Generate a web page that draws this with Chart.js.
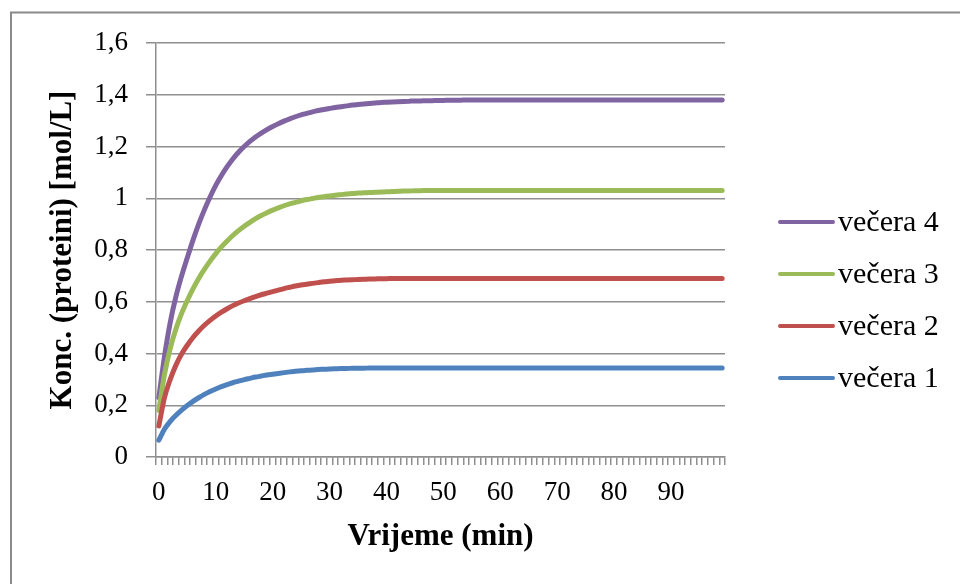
<!DOCTYPE html>
<html>
<head>
<meta charset="utf-8">
<script src="https://cdn.jsdelivr.net/npm/chart.js@4"></script>
<style>
  html, body { margin: 0; padding: 0; background: #ffffff; }
  #wrap { width: 960px; height: 584px; }
</style>
</head>
<body>
<div id="wrap"><canvas id="c" width="960" height="584"></canvas></div>
<script>
const timeLabels = [
  '0','1','2','3','4','5','6','7','8','9',
  '10','11','12','13','14','15','16','17','18','19',
  '20','21','22','23','24','25','26','27','28','29',
  '30','31','32','33','34','35','36','37','38','39',
  '40','41','42','43','44','45','46','47','48','49',
  '50','51','52','53','54','55','56','57','58','59',
  '60','61','62','63','64','65','66','67','68','69',
  '70','71','72','73','74','75','76','77','78','79',
  '80','81','82','83','84','85','86','87','88','89',
  '90','91','92','93','94','95','96','97','98','99'
];

const vecera1 = [
  0.065, 0.108, 0.138, 0.161, 0.181, 0.199, 0.215, 0.229, 0.242, 0.253,
  0.263, 0.272, 0.28, 0.287, 0.293, 0.299, 0.304, 0.309, 0.313, 0.317,
  0.32, 0.323, 0.326, 0.329, 0.331, 0.333, 0.335, 0.336, 0.338, 0.339,
  0.34, 0.341, 0.342, 0.342, 0.343, 0.343, 0.343, 0.344, 0.344, 0.344,
  0.344, 0.344, 0.344, 0.344, 0.344, 0.344, 0.344, 0.344, 0.344, 0.344,
  0.344, 0.344, 0.344, 0.344, 0.344, 0.344, 0.344, 0.344, 0.344, 0.344,
  0.344, 0.344, 0.344, 0.344, 0.344, 0.344, 0.344, 0.344, 0.344, 0.344,
  0.344, 0.344, 0.344, 0.344, 0.344, 0.344, 0.344, 0.344, 0.344, 0.344,
  0.344, 0.344, 0.344, 0.344, 0.344, 0.344, 0.344, 0.344, 0.344, 0.344,
  0.344, 0.344, 0.344, 0.344, 0.344, 0.344, 0.344, 0.344, 0.344, 0.344
];

const vecera2 = [
  0.12, 0.23, 0.30, 0.355, 0.398, 0.432, 0.462, 0.487, 0.509, 0.528,
  0.545, 0.56, 0.573, 0.585, 0.595, 0.604, 0.612, 0.62, 0.627, 0.633,
  0.639, 0.645, 0.651, 0.656, 0.661, 0.665, 0.668, 0.671, 0.674, 0.677,
  0.679, 0.681, 0.683, 0.684, 0.685, 0.686, 0.687, 0.688, 0.688, 0.689,
  0.689, 0.69, 0.69, 0.69, 0.69, 0.69, 0.69, 0.69, 0.69, 0.69,
  0.69, 0.69, 0.69, 0.69, 0.69, 0.69, 0.69, 0.69, 0.69, 0.69,
  0.69, 0.69, 0.69, 0.69, 0.69, 0.69, 0.69, 0.69, 0.69, 0.69,
  0.69, 0.69, 0.69, 0.69, 0.69, 0.69, 0.69, 0.69, 0.69, 0.69,
  0.69, 0.69, 0.69, 0.69, 0.69, 0.69, 0.69, 0.69, 0.69, 0.69,
  0.69, 0.69, 0.69, 0.69, 0.69, 0.69, 0.69, 0.69, 0.69, 0.69
];

const vecera3 = [
  0.18, 0.32, 0.42, 0.495, 0.555, 0.605, 0.65, 0.69, 0.725, 0.757,
  0.786, 0.812, 0.835, 0.856, 0.875, 0.892, 0.907, 0.921, 0.933, 0.944,
  0.954, 0.963, 0.971, 0.978, 0.984, 0.99, 0.995, 0.999, 1.003, 1.006,
  1.009, 1.012, 1.014, 1.016, 1.018, 1.02, 1.021, 1.022, 1.023, 1.024,
  1.025, 1.026, 1.027, 1.028, 1.028, 1.029, 1.029, 1.03, 1.03, 1.03,
  1.03, 1.03, 1.03, 1.03, 1.03, 1.03, 1.03, 1.03, 1.03, 1.03,
  1.03, 1.03, 1.03, 1.03, 1.03, 1.03, 1.03, 1.03, 1.03, 1.03,
  1.03, 1.03, 1.03, 1.03, 1.03, 1.03, 1.03, 1.03, 1.03, 1.03,
  1.03, 1.03, 1.03, 1.03, 1.03, 1.03, 1.03, 1.03, 1.03, 1.03,
  1.03, 1.03, 1.03, 1.03, 1.03, 1.03, 1.03, 1.03, 1.03, 1.03
];

const vecera4 = [
  0.23, 0.39, 0.52, 0.62, 0.70, 0.77, 0.838, 0.90, 0.955, 1.005,
  1.05, 1.088, 1.122, 1.152, 1.178, 1.20, 1.22, 1.237, 1.252, 1.265,
  1.277, 1.288, 1.298, 1.307, 1.315, 1.322, 1.328, 1.334, 1.339, 1.343,
  1.347, 1.351, 1.354, 1.357, 1.36, 1.362, 1.364, 1.366, 1.368, 1.37,
  1.371, 1.372, 1.373, 1.374, 1.375, 1.376, 1.376, 1.377, 1.377, 1.378,
  1.378, 1.379, 1.379, 1.379, 1.38, 1.38, 1.38, 1.38, 1.38, 1.38,
  1.38, 1.38, 1.38, 1.38, 1.38, 1.38, 1.38, 1.38, 1.38, 1.38,
  1.38, 1.38, 1.38, 1.38, 1.38, 1.38, 1.38, 1.38, 1.38, 1.38,
  1.38, 1.38, 1.38, 1.38, 1.38, 1.38, 1.38, 1.38, 1.38, 1.38,
  1.38, 1.38, 1.38, 1.38, 1.38, 1.38, 1.38, 1.38, 1.38, 1.38
];

const seriesNames = ['večera 1', 'večera 2', 'večera 3', 'večera 4'];
const seriesColors = ['#4F81BD', '#C0504D', '#9BBB59', '#8064A2'];
const yTicks = ['0', '0,2', '0,4', '0,6', '0,8', '1', '1,2', '1,4', '1,6'];
const xAxisTitle = 'Vrijeme (min)';
const yAxisTitle = 'Konc. (proteini) [mol/L]';

const SERIF = "'Liberation Serif', 'Times New Roman', serif";
const GRID = '#8f8f8f';

const frame = {
  id: 'frame',
  beforeDraw(chart) {
    const ctx = chart.ctx;
    ctx.save();
    ctx.fillStyle = '#ffffff';
    ctx.fillRect(0, 0, chart.width, chart.height);
    ctx.strokeStyle = '#8a8a8a';
    ctx.lineWidth = 2;
    ctx.beginPath();
    ctx.moveTo(11, chart.height);
    ctx.lineTo(11, 12.5);
    ctx.lineTo(chart.width, 12.5);
    ctx.stroke();
    ctx.restore();
  }
};

const sideLegend = {
  id: 'sideLegend',
  afterDraw(chart) {
    const ctx = chart.ctx;
    const area = chart.chartArea;
    const ds = chart.data.datasets;
    const x0 = area.right + 55;
    const lineLen = 53;
    const step = 52;
    const yFirst = 222;
    ctx.save();
    ctx.font = '30px ' + SERIF;
    ctx.textBaseline = 'middle';
    ctx.textAlign = 'left';
    for (let k = 0; k < ds.length; k++) {
      const d = ds[ds.length - 1 - k];
      const y = yFirst + k * step;
      ctx.strokeStyle = d.borderColor;
      ctx.lineWidth = 4;
      ctx.lineCap = 'round';
      ctx.beginPath();
      ctx.moveTo(x0, y);
      ctx.lineTo(x0 + lineLen, y);
      ctx.stroke();
      ctx.fillStyle = '#000000';
      ctx.fillText(d.label, x0 + lineLen + 5, y + 1);
    }
    ctx.restore();
  }
};

const allSeries = [vecera1, vecera2, vecera3, vecera4];

new Chart(document.getElementById('c'), {
  type: 'line',
  data: {
    labels: timeLabels,
    datasets: allSeries.map((vals, i) => ({
      label: seriesNames[i],
      data: vals,
      borderColor: seriesColors[i],
      backgroundColor: seriesColors[i],
      borderWidth: 5,
      pointRadius: 0,
      pointHoverRadius: 0,
      fill: false,
      tension: 0,
      cubicInterpolationMode: 'monotone',
      borderCapStyle: 'round',
      borderJoinStyle: 'round'
    }))
  },
  options: {
    responsive: false,
    devicePixelRatio: 1,
    animation: false,
    events: [],
    layout: { padding: { left: 44, top: 43, right: 235, bottom: 28 } },
    plugins: {
      legend: { display: false },
      tooltip: { enabled: false },
      title: { display: false }
    },
    scales: {
      x: {
        type: 'category',
        offset: true,
        afterFit(s) { s.height = 99; },
        grid: {
          display: true,
          drawOnChartArea: false,
          drawTicks: true,
          tickLength: 8,
          offset: true,
          color: GRID,
          lineWidth: 1.5
        },
        border: { display: true, color: GRID, width: 1.5 },
        ticks: {
          autoSkip: false,
          maxRotation: 0,
          minRotation: 0,
          padding: 12,
          color: '#000000',
          font: { family: SERIF, size: 27 },
          callback: (v, i) => (i % 10 === 0 ? timeLabels[i] : '')
        },
        title: {
          display: true,
          text: xAxisTitle,
          color: '#000000',
          padding: 0,
          font: { family: SERIF, size: 31, weight: 'bold' }
        }
      },
      y: {
        min: 0,
        max: 1.6,
        afterFit(s) { s.width = 112; },
        grid: {
          display: true,
          drawOnChartArea: true,
          drawTicks: true,
          tickLength: 10,
          color: GRID,
          lineWidth: 1.5
        },
        border: { display: true, color: GRID, width: 1.5 },
        ticks: {
          stepSize: 0.2,
          padding: 18,
          color: '#000000',
          font: { family: SERIF, size: 27 },
          callback: (v) => yTicks[Math.round(v / 0.2)]
        },
        title: {
          display: true,
          text: yAxisTitle,
          color: '#000000',
          padding: 0,
          font: { family: SERIF, size: 31, weight: 'bold' }
        }
      }
    }
  },
  plugins: [frame, sideLegend]
});
</script>
</body>
</html>
